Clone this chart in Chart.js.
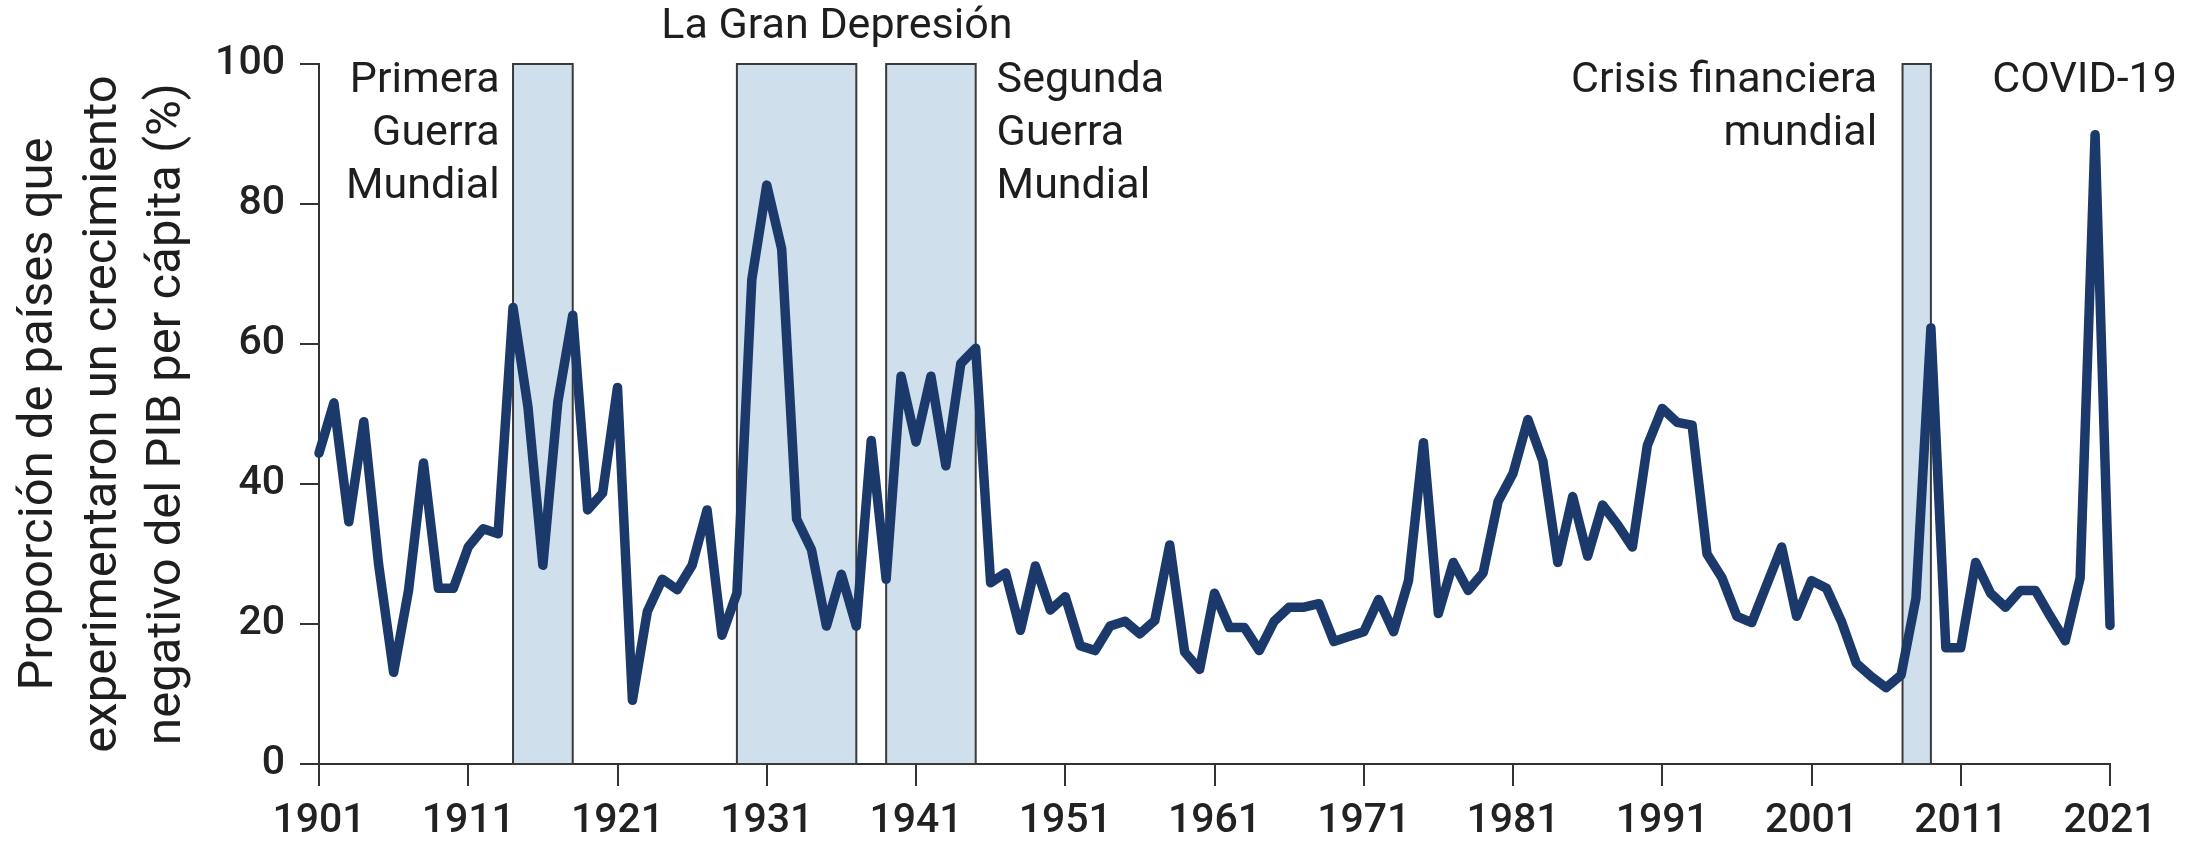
<!DOCTYPE html>
<html>
<head>
<meta charset="utf-8">
<script src="https://cdn.jsdelivr.net/npm/chart.js@4.4.1/dist/chart.umd.min.js"></script>
<style>
  html, body { margin: 0; padding: 0; background: #fff; }
  canvas { display: block; }
</style>
</head>
<body>
<canvas id="chart" width="2206" height="848"></canvas>
<script>
// years 1901..2021, one value per year
const years = [];
for (let y = 1901; y <= 2021; y++) years.push(y);

const shareNegative = [
    44.4, 51.6, 34.6, 48.9, 28.4, 13.1, 24.8, 43.0, 25.1, 25.1,   // 1901-1910
    31.0, 33.6, 32.9, 65.2, 51.0, 28.4, 51.7, 64.1, 36.3, 38.7,   // 1911-1920
    53.8, 9.1, 21.8, 26.4, 24.9, 28.4, 36.3, 18.4, 24.4, 69.2,    // 1921-1930
    82.7, 73.6, 35.0, 30.6, 19.7, 27.1, 19.7, 46.2, 26.4, 55.4,   // 1931-1940
    46.0, 55.4, 42.6, 57.2, 59.4, 25.9, 27.3, 19.1, 28.3, 22.0,   // 1941-1950
    23.9, 16.9, 16.2, 19.7, 20.4, 18.6, 20.5, 31.3, 16.0, 13.5,   // 1951-1960
    24.4, 19.5, 19.5, 16.2, 20.4, 22.4, 22.4, 22.9, 17.5, 18.2,   // 1961-1970
    18.9, 23.5, 18.9, 26.2, 45.9, 21.5, 28.8, 24.8, 27.3, 37.5,   // 1971-1980
    41.5, 49.2, 43.3, 28.8, 38.2, 29.7, 37.0, 34.2, 31.0, 45.5,   // 1981-1990
    50.8, 48.8, 48.4, 30.0, 26.6, 21.1, 20.2, 25.6, 31.0, 21.1,   // 1991-2000
    26.2, 25.1, 20.4, 14.4, 12.5, 10.9, 12.7, 23.7, 62.3, 16.6,   // 2001-2010
    16.6, 28.8, 24.4, 22.4, 24.8, 24.8, 21.1, 17.6, 26.6, 89.9,   // 2011-2020
    19.8                                                          // 2021
];

const tickYears = [1901, 1911, 1921, 1931, 1941, 1951, 1961, 1971, 1981, 1991, 2001, 2011, 2021];
const tickValues = [0, 20, 40, 60, 80, 100];

// shaded crisis periods [start, end]
const bandStarts = [1914, 1929, 1939, 2007.1];
const bandEnds   = [1918, 1937, 1945, 2009.0];

// annotation labels: text lines, anchor year, anchor value, alignment
const labelLines  = [
    ['Primera', 'Guerra', 'Mundial'],
    ['La Gran Depresión'],
    ['Segunda', 'Guerra', 'Mundial'],
    ['Crisis financiera', 'mundial'],
    ['COVID-19']
];
const labelYears  = [1913.1, 1935.7, 1946.4, 2005.4, 2019.3];
const labelValues = [97.5, 105.2, 97.5, 97.5, 97.5];
const labelAlign  = ['right', 'center', 'left', 'right', 'center'];

const points = years.map((y, i) => ({x: y, y: shareNegative[i]}));

const bandsPlugin = {
    id: 'bands',
    beforeDatasetsDraw(chart) {
        const {ctx, scales: {x, y}} = chart;
        ctx.save();
        for (let i = 0; i < bandStarts.length; i++) {
            const x1 = x.getPixelForValue(bandStarts[i]);
            const x2 = x.getPixelForValue(bandEnds[i]);
            const y1 = y.getPixelForValue(100);
            const y2 = y.getPixelForValue(0);
            ctx.fillStyle = '#cfe0ec';
            ctx.fillRect(x1, y1, x2 - x1, y2 - y1);
            ctx.strokeStyle = '#3a3a3a';
            ctx.lineWidth = 2;
            ctx.strokeRect(x1, y1, x2 - x1, y2 - y1);
        }
        ctx.restore();
    },
    afterDraw(chart) {
        const {ctx, scales: {x, y}} = chart;
        ctx.save();
        ctx.font = '400 43px Roboto';
        ctx.fillStyle = '#1e1e1e';
        ctx.textBaseline = 'middle';
        for (let i = 0; i < labelLines.length; i++) {
            const px = x.getPixelForValue(labelYears[i]);
            const py = y.getPixelForValue(labelValues[i]);
            ctx.textAlign = labelAlign[i];
            labelLines[i].forEach((line, j) => {
                ctx.fillText(line, px, py + j * 53);
            });
        }
        ctx.restore();
    }
};

new Chart(document.getElementById('chart'), {
    type: 'line',
    data: {
        datasets: [{
            data: points,
            borderColor: '#1b3a6b',
            borderWidth: 9.5,
            borderJoinStyle: 'round',
            borderCapStyle: 'round',
            pointRadius: 0,
            tension: 0,
            fill: false,
            clip: false
        }]
    },
    options: {
        responsive: false,
        animation: false,
        devicePixelRatio: 1,
        layout: {padding: {left: 0, right: 96, top: 64, bottom: 0}},
        plugins: {legend: {display: false}, tooltip: {enabled: false}},
        scales: {
            x: {
                type: 'linear',
                min: 1901,
                max: 2021,
                afterBuildTicks: (scale) => { scale.ticks = tickYears.map(v => ({value: v})); },
                afterFit: (scale) => { scale.height = 84; },
                ticks: {
                    autoSkip: false,
                    maxRotation: 0,
                    padding: 11,
                    color: '#222',
                    font: {family: 'Roboto', size: 41, weight: '500'},
                    callback: (v) => String(v)
                },
                grid: {drawOnChartArea: false, drawTicks: true, tickLength: 22, color: '#333', lineWidth: 2},
                border: {display: true, color: '#333', width: 2}
            },
            y: {
                min: 0,
                max: 100,
                afterBuildTicks: (scale) => { scale.ticks = tickValues.map(v => ({value: v})); },
                afterFit: (scale) => { scale.width = 319; },
                ticks: {
                    padding: 15,
                    color: '#222',
                    font: {family: 'Roboto', size: 41, weight: '500'}
                },
                grid: {drawOnChartArea: false, drawTicks: true, tickLength: 19, color: '#333', lineWidth: 2},
                border: {display: true, color: '#333', width: 2},
                title: {
                    display: true,
                    text: ['Proporción de países que', 'experimentaron un crecimiento', 'negativo del PIB per cápita (%)'],
                    color: '#1e1e1e',
                    font: {family: 'Roboto', size: 49, weight: '400', lineHeight: 1.3},
                    padding: {top: 8, bottom: 0}
                }
            }
        }
    },
    plugins: [bandsPlugin]
});
</script>
</body>
</html>
